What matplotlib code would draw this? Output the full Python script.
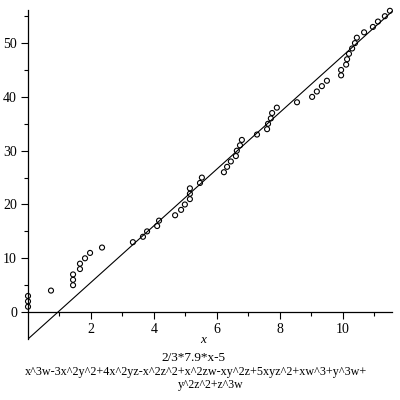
import matplotlib
matplotlib.use('Agg')
import matplotlib.pyplot as plt
import numpy as np

# sorted x values, ranks 1..56 on y
xs = [0, 0, 0, 0.73, 1.43, 1.43, 1.43, 1.65, 1.65, 1.81,
      1.97, 2.35, 3.33, 3.65, 3.78, 4.1, 4.16, 4.67, 4.86, 4.98,
      5.14, 5.14, 5.14, 5.46, 5.52, 6.22, 6.32, 6.44, 6.6, 6.63,
      6.73, 6.79, 7.27, 7.59, 7.62, 7.71, 7.75, 7.9, 8.54, 9.02,
      9.17, 9.33, 9.49, 9.94, 9.94, 10.1, 10.13, 10.19, 10.29, 10.38,
      10.44, 10.67, 10.95, 11.11, 11.33, 11.49]
ys = list(range(1, len(xs) + 1))

slope = 2 / 3 * 7.9
icept = -5
xmax = 11.556

plt.rcParams['font.family'] = ['Liberation Serif', 'DejaVu Serif']

fig = plt.figure(figsize=(4, 4), dpi=100)
ax = fig.add_axes([0.07, 0.1525, 0.91, 0.8225])

lx = np.array([0, xmax])
ax.plot(lx, slope * lx + icept, color='black', lw=0.8)
ax.scatter(xs, ys, s=13, facecolors='none', edgecolors='black', linewidths=0.8,
           zorder=3, clip_on=False)

ax.set_xlim(0, xmax)
ax.set_ylim(-5, 56.15)

ax.spines['top'].set_visible(False)
ax.spines['right'].set_visible(False)
ax.spines['bottom'].set_position(('data', 0))
ax.spines['left'].set_linewidth(0.9)
ax.spines['bottom'].set_linewidth(0.9)

ax.set_xticks([2, 4, 6, 8, 10])
ax.set_xticks([1, 3, 5, 7, 9, 11], minor=True)
ax.set_yticks([0, 10, 20, 30, 40, 50])
ax.set_yticks([5, 15, 25, 35, 45, 55], minor=True)
ax.tick_params(which='major', length=5, width=0.8, labelsize=10, pad=3)
ax.tick_params(which='minor', length=3, width=0.8)

ax.text(5.56, -5.2, 'x', ha='center', va='center', fontsize=9.5, style='italic')
fig.text(0.4825, 0.105, '2/3*7.9*x-5', ha='center', va='center', fontsize=9.5)
fig.text(0.49, 0.07, 'x^3w-3x^2y^2+4x^2yz-x^2z^2+x^2zw-xy^2z+5xyz^2+xw^3+y^3w+',
         ha='center', va='center', fontsize=8.7)
fig.text(0.5275, 0.0375, 'y^2z^2+z^3w', ha='center', va='center', fontsize=8.5)

fig.savefig('out.png', dpi=100)
